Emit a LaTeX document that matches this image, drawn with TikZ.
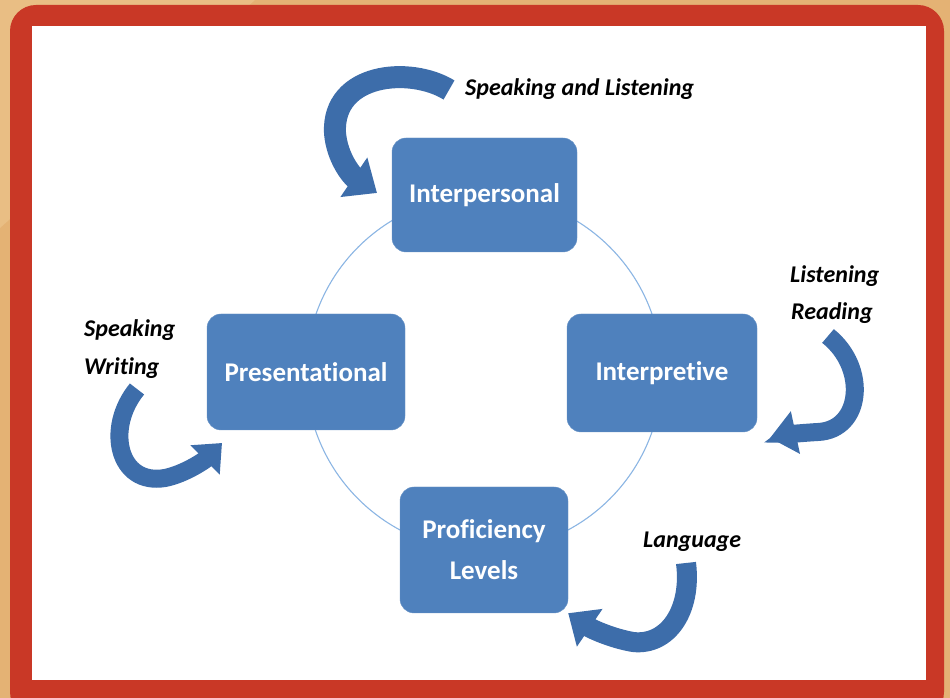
\documentclass[tikz,border=0pt]{standalone}
\usepackage{fontspec}
\setmainfont{Carlito}[Ligatures=NoCommon]
\usetikzlibrary{arrows.meta}
\definecolor{bgtan}{HTML}{E4B274}
\definecolor{bglight}{HTML}{E9BE84}
\definecolor{framered}{HTML}{C93826}
\definecolor{boxblue}{HTML}{4F81BD}
\definecolor{ringblue}{HTML}{8CB6E4}
\definecolor{arrblue}{HTML}{3D6DAA}
\begin{document}
\begin{tikzpicture}[x=1pt,y=1pt,
  box/.style={fill=boxblue, draw=boxblue!85!white, rounded corners=14pt, text=white,
    font=\fontsize{27}{32}\selectfont\bfseries, align=center, inner sep=0pt},
  lab/.style={font=\fontsize{24}{28}\selectfont\bfseries\itshape, text=black, anchor=west, inner sep=0pt},
  arr/.style={draw=arrblue, line width=#1}
]
\useasboundingbox (0,0) rectangle (950,698);
% background
\fill[bgtan] (0,0) rectangle (950,698);
\fill[bglight] (0,698) -- (255,698) -- (0,470) -- cycle;
\fill[framered, rounded corners=26pt] (10,-20) rectangle (944,693);
\fill[white] (32,18) rectangle (926,672);
% ring
\node[draw=ringblue, line width=1.1pt, circle, minimum size=356pt, inner sep=0pt] (ring) at (484,325) {};
% boxes
\node[box, minimum width=185pt, minimum height=114pt] (inter) at (484.5,503) {Interpersonal};
\node[box, minimum width=198pt, minimum height=116pt] (pres) at (306,326) {Presentational};
\node[box, minimum width=190pt, minimum height=118pt] (interp) at (662,325) {Interpretive};
\node[box, minimum width=168pt, minimum height=126pt] (prof) at (484,148) {Proficiency\\[9pt]Levels};
% labels
\node[lab] (lsl) at (465,609) {Speaking and Listening};
\node[lab] (llis) at (790,422) {Listening};
\node[lab] (lrea) at (791,385) {Reading};
\node[lab] (lspk) at (84,368) {Speaking};
\node[lab] (lwri) at (84,330) {Writing};
\node[lab] (llan) at (643,156) {Language};
% arrow anchors
\coordinate (t1) at (449,608);
\coordinate (t2) at (137,309);
\coordinate (t3) at (828,362);
\coordinate (t4) at (686,135);
\coordinate (h1) at (377,505);
\coordinate (h2) at (222,255);
\coordinate (h3) at (770,260);
% curved block arrows
\draw[arr=22pt, -{Triangle[width=46pt,length=28pt]}] (t1) .. controls (410,632) and (332,625) .. (335,565) .. controls (337,540) and (352,522) .. (h1);
\draw[arr=18pt, -{Triangle[width=40pt,length=24pt]}] (t2) .. controls (105,270) and (118,212) .. (165,220) .. controls (185,224) and (205,238) .. (h2);
\draw[arr=18pt, -{Triangle[width=42pt,length=26pt]}] (t3) .. controls (868,330) and (862,268) .. (818,266) .. controls (800,265) and (784,263) .. (h3);
\draw[arr=20pt, -{Triangle[width=44pt,length=26pt]}] (t4) .. controls (692,88) and (668,52) .. (633,56) .. controls (610,60) and (590,70) .. (prof.south east);
\end{tikzpicture}
\end{document}
